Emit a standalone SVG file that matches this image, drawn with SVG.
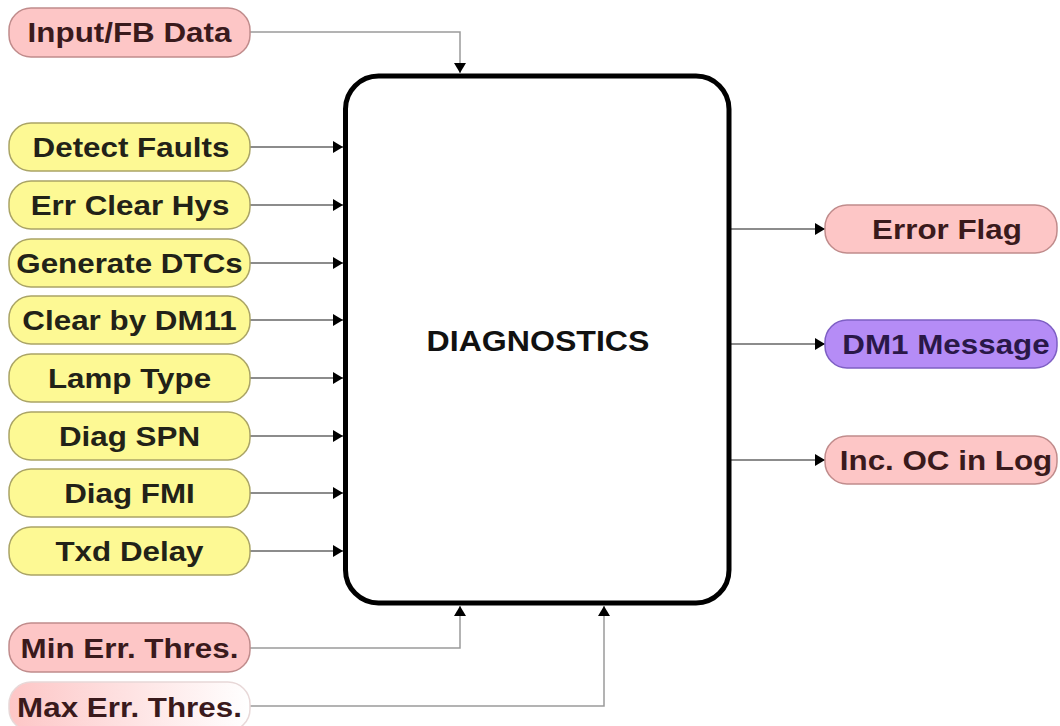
<svg xmlns="http://www.w3.org/2000/svg" width="1060" height="726" viewBox="0 0 1060 726">
<style>
.t{font-family:"Liberation Sans",Arial,sans-serif;font-weight:bold;font-size:28px;text-anchor:middle}
.y{fill:#fdf994;stroke:#aaa466;stroke-width:1.5}
.p{fill:#fdc6c6;stroke:#c08c8c;stroke-width:1.5}
.v{fill:#b58cf6;stroke:#7e5fc4;stroke-width:1.5}
.ty{fill:#222218}
.tp{fill:#3a1a1c}
.tv{fill:#2a1848}
.c{fill:none;stroke:#666;stroke-width:1.5}
.cl{fill:none;stroke:#9a9a9a;stroke-width:1.5}
</style>
<defs>
<marker id="ah" viewBox="0 0 10 12" refX="10" refY="6" markerWidth="10" markerHeight="12" markerUnits="userSpaceOnUse" orient="auto">
<path d="M0,0 L10,6 L0,12 Z" fill="#000"/>
</marker>
<linearGradient id="fade" x1="0" y1="0" x2="1" y2="0">
<stop offset="0" stop-color="#fdc6c6"/>
<stop offset="1" stop-color="#ffffff"/>
</linearGradient>
</defs>
<rect width="1060" height="726" fill="#fff"/>

<g id="connectors">
<path class="cl" d="M250,32 H460 V73" marker-end="url(#ah)"/>
<path class="c" d="M250,147 H343" marker-end="url(#ah)"/>
<path class="c" d="M250,205 H343" marker-end="url(#ah)"/>
<path class="c" d="M250,263 H343" marker-end="url(#ah)"/>
<path class="c" d="M250,320 H343" marker-end="url(#ah)"/>
<path class="c" d="M250,378 H343" marker-end="url(#ah)"/>
<path class="c" d="M250,436 H343" marker-end="url(#ah)"/>
<path class="c" d="M250,493 H343" marker-end="url(#ah)"/>
<path class="c" d="M250,551 H343" marker-end="url(#ah)"/>
<path class="cl" d="M250,648 H460 V606" marker-end="url(#ah)"/>
<path class="cl" d="M250,706 H604 V606" marker-end="url(#ah)"/>
<path class="c" d="M731,229 H825" marker-end="url(#ah)"/>
<path class="c" d="M731,344 H825" marker-end="url(#ah)"/>
<path class="c" d="M731,460 H825" marker-end="url(#ah)"/>
</g>

<g id="diagnostics">
<rect x="345.5" y="76" width="383.5" height="527" rx="33" fill="#fff" stroke="#000" stroke-width="5"/>
<text class="t" fill="#111" transform="translate(538,351) scale(1.07,1)" style="font-size:30px">DIAGNOSTICS</text>
</g>

<g id="input-fb-data">
<rect class="p" x="9" y="8" width="241" height="49" rx="22"/>
<text class="t tp" transform="translate(129.5,42) scale(1.12,1)">Input/FB Data</text>
</g>
<g id="detect-faults">
<rect class="y" x="9" y="123" width="241" height="48" rx="22"/>
<text class="t ty" transform="translate(131,157) scale(1.12,1)">Detect Faults</text>
</g>
<g id="err-clear-hys">
<rect class="y" x="9" y="181" width="241" height="48" rx="22"/>
<text class="t ty" transform="translate(130,215) scale(1.12,1)">Err Clear Hys</text>
</g>
<g id="generate-dtcs">
<rect class="y" x="9" y="239" width="241" height="48" rx="22"/>
<text class="t ty" transform="translate(129.5,273) scale(1.12,1)">Generate DTCs</text>
</g>
<g id="clear-by-dm11">
<rect class="y" x="9" y="296" width="241" height="48" rx="22"/>
<text class="t ty" transform="translate(129.5,330) scale(1.12,1)">Clear by DM11</text>
</g>
<g id="lamp-type">
<rect class="y" x="9" y="354" width="241" height="48" rx="22"/>
<text class="t ty" transform="translate(129.5,388) scale(1.12,1)">Lamp Type</text>
</g>
<g id="diag-spn">
<rect class="y" x="9" y="412" width="241" height="48" rx="22"/>
<text class="t ty" transform="translate(129.5,446) scale(1.12,1)">Diag SPN</text>
</g>
<g id="diag-fmi">
<rect class="y" x="9" y="469" width="241" height="48" rx="22"/>
<text class="t ty" transform="translate(129.5,503) scale(1.12,1)">Diag FMI</text>
</g>
<g id="txd-delay">
<rect class="y" x="9" y="527" width="241" height="48" rx="22"/>
<text class="t ty" transform="translate(129.5,561) scale(1.12,1)">Txd Delay</text>
</g>
<g id="min-err-thres">
<rect class="p" x="9" y="623" width="241" height="49" rx="22"/>
<text class="t tp" transform="translate(129.5,658) scale(1.12,1)">Min Err. Thres.</text>
</g>
<g id="max-err-thres">
<rect x="9" y="682" width="241" height="49" rx="22" fill="url(#fade)" stroke="#e8d8d8" stroke-width="1.5"/>
<text class="t tp" transform="translate(129.5,717) scale(1.12,1)">Max Err. Thres.</text>
</g>

<g id="error-flag">
<rect class="p" x="825" y="205" width="232" height="48" rx="22"/>
<text class="t tp" transform="translate(947,239) scale(1.12,1)">Error Flag</text>
</g>
<g id="dm1-message">
<rect class="v" x="825" y="320" width="232" height="48" rx="22"/>
<text class="t tv" transform="translate(946,354) scale(1.12,1)">DM1 Message</text>
</g>
<g id="inc-oc-in-log">
<rect class="p" x="825" y="436" width="232" height="48" rx="22"/>
<text class="t tp" transform="translate(946,470) scale(1.12,1)">Inc. OC in Log</text>
</g>
</svg>
